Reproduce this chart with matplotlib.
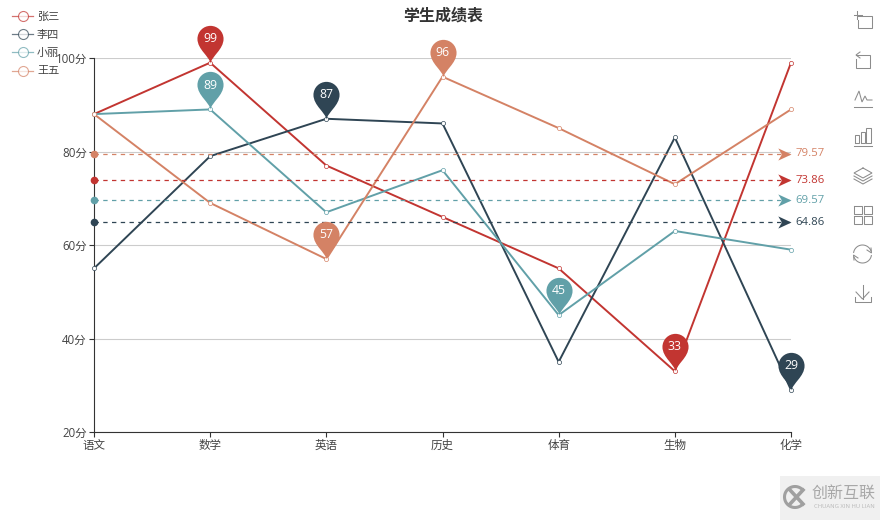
import numpy as np
import matplotlib
matplotlib.use('Agg')
import matplotlib.pyplot as plt
from matplotlib.lines import Line2D
from matplotlib.path import Path
from matplotlib.patches import Rectangle

plt.rcParams['font.family'] = ['Open Sans', 'Noto Sans CJK SC', 'DejaVu Sans']

W, H = 880, 520

subjects = ['语文', '数学', '英语', '历史', '体育', '生物', '化学']
names = ['张三', '李四', '小丽', '王五']
zhangsan = [88, 99, 77, 66, 55, 33, 99]
lisi = [55, 79, 87, 86, 35, 83, 29]
xiaoli = [88, 89, 67, 76, 45, 63, 59]
wangwu = [88, 69, 57, 96, 85, 73, 89]
colors = ['#c23531', '#2f4554', '#61a0a8', '#d48265']
y_ticks = [20, 40, 60, 80, 100]

all_scores = [zhangsan, lisi, xiaoli, wangwu]


def px(x, y):
    # picture pixels (top left origin) to figure fraction
    return x / W, 1 - y / H


def make_pin():
    # tip at the origin, head of radius 13 centred 24.5 above it
    r = 13
    c = 24.5
    k = 0.5523 * r
    verts = [(0, 0), (-1, 7), (-r, 14), (-r, c),
             (-r, c + k), (-k, c + r), (0, c + r),
             (k, c + r), (r, c + k), (r, c),
             (r, 14), (1, 7), (0, 0), (0, 0)]
    codes = [Path.MOVETO] + [Path.CURVE4] * 12 + [Path.CLOSEPOLY]
    return Path(verts, codes)


def make_arrow():
    # tip at the origin, pointing right
    verts = [(0, 0), (-13, 6), (-9.5, 0), (-13, -6), (0, 0)]
    codes = [Path.MOVETO, Path.LINETO, Path.LINETO, Path.LINETO, Path.CLOSEPOLY]
    return Path(verts, codes)


def icon_line(fig, xs, ys, color='#8c8c8c', lw=0.75):
    pts = [px(a, b) for a, b in zip(xs, ys)]
    fig.add_artist(Line2D([p[0] for p in pts], [p[1] for p in pts], color=color,
                          lw=lw, transform=fig.transFigure, solid_joinstyle='miter'))


def draw_toolbox(fig):
    # crop
    icon_line(fig, [858, 872, 872, 858, 858], [16, 16, 28, 28, 20])
    icon_line(fig, [854, 862], [15, 15])
    icon_line(fig, [857, 857], [11, 19])
    # back
    icon_line(fig, [856, 870, 870, 856, 856], [55, 55, 68, 68, 59])
    icon_line(fig, [860, 856, 860], [52, 55, 58])
    # line
    icon_line(fig, [854, 872], [107, 107])
    icon_line(fig, [855, 859, 862, 865, 867, 872], [100, 91, 102, 96, 100, 100])
    # bars
    icon_line(fig, [854, 872], [146, 146])
    for left, top, right in [(855, 135, 859), (861, 132, 865), (866, 128, 871)]:
        icon_line(fig, [left, left, right, right, left], [143, top, top, 143, 143])
    # stack
    icon_line(fig, [863, 872, 863, 854, 863], [168, 173, 178, 173, 168])
    icon_line(fig, [854, 863, 872], [176, 181, 176])
    icon_line(fig, [854, 863, 872], [179, 184, 179])
    # tiles
    for left in [854, 864]:
        for top in [206, 216]:
            icon_line(fig, [left, left + 8, left + 8, left, left],
                      [top, top, top + 8, top + 8, top])
    # refresh
    for start, end in [(20, 170), (200, 350)]:
        t = np.radians(np.linspace(start, end, 30))
        icon_line(fig, 862.5 + 9 * np.cos(t), 254 - 9 * np.sin(t))
    icon_line(fig, [871, 871.5, 867], [248, 253, 250])
    icon_line(fig, [854, 853.5, 858], [260, 255, 258])
    # download
    icon_line(fig, [862.5, 862.5], [285, 299])
    icon_line(fig, [856, 862.5, 869], [292, 299, 292])
    icon_line(fig, [855, 855, 871, 871], [297, 302, 302, 297])


def draw_watermark(fig):
    x0, y0 = px(780, 520)
    fig.add_artist(Rectangle((x0, y0), 100 / W, 44 / H, transform=fig.transFigure,
                             color='#f0f0f0', lw=0))
    t = np.radians(np.linspace(45, 315, 40))
    icon_line(fig, 795 + 10.5 * np.cos(t), 497 - 10.5 * np.sin(t), color='#a0a0a0', lw=2.2)
    icon_line(fig, [790, 803], [490, 504], color='#a0a0a0', lw=2.6)
    icon_line(fig, [790, 803], [504, 490], color='#a0a0a0', lw=2.6)
    x, y = px(844, 494)
    fig.text(x, y, '创新互联', ha='center', va='center', fontsize=11.5, color='#a8a8a8')
    x, y = px(844, 507)
    fig.text(x, y, 'CHUANG XIN HU LIAN', ha='center', va='center', fontsize=4.2, color='#b8b8b8')


fig = plt.figure(figsize=(W / 100, H / 100), dpi=100, facecolor='white')
ax = fig.add_axes([94 / W, 1 - 432 / H, 697 / W, 374 / H])

x_pos = np.arange(len(subjects))
ax.set_xlim(0, len(subjects) - 1)
ax.set_ylim(20, 100)

ax.set_xticks(x_pos)
ax.set_xticklabels(subjects)
ax.set_yticks(y_ticks)
ax.set_yticklabels([str(v) + '分' for v in y_ticks])
ax.tick_params(axis='both', labelsize=8.3, labelcolor='#444444', color='#333333',
               length=3.6, width=0.8, pad=1.5)
ax.grid(axis='y', color='#cccccc', lw=0.8)
ax.set_axisbelow(True)
for side in ['top', 'right']:
    ax.spines[side].set_visible(False)
for side in ['left', 'bottom']:
    ax.spines[side].set_color('#333333')
    ax.spines[side].set_linewidth(0.8)

handles = []
for scores, name, color in zip(all_scores, names, colors):
    ax.plot(x_pos, scores, color=color, lw=1.4, marker='o', ms=3.0, mfc='white',
            mew=0.5, clip_on=False, zorder=3)
    handles.append(Line2D([], [], color=color, lw=0.9, marker='o', ms=7.2, mfc='white',
                          mew=0.8, alpha=0.7, label=name))

pin = make_pin()
arrow = make_arrow()
for scores, color in zip(all_scores, colors):
    avg = np.mean(scores)
    ax.plot([0, x_pos[-1]], [avg, avg], color=color, lw=0.9, ls=(0, (3.5, 3.5)), zorder=4)
    ax.plot([0], [avg], marker='o', ms=5.5, color=color, mew=0, clip_on=False, zorder=5)
    ax.plot([x_pos[-1]], [avg], marker=arrow, ms=19, color=color, mew=0, clip_on=False, zorder=5)
    ax.annotate('%.2f' % avg, (x_pos[-1], avg), xytext=(3, 0), textcoords='offset points',
                ha='left', va='center', fontsize=8.2, color=color, annotation_clip=False)
    for idx in [int(np.argmax(scores)), int(np.argmin(scores))]:
        ax.plot([x_pos[idx]], [scores[idx]], marker=pin, ms=54.2, color=color, mew=0,
                clip_on=False, zorder=6)
        ax.annotate(str(scores[idx]), (x_pos[idx], scores[idx]), xytext=(0, 17.5),
                    textcoords='offset points', ha='center', va='center', fontsize=8.8,
                    color='white', zorder=7, annotation_clip=False)

fig.legend(handles=handles, loc='upper left', bbox_to_anchor=px(12, 11.5), frameon=False,
           fontsize=8.0, labelcolor='#444444', handlelength=1.9, handletextpad=0.35,
           labelspacing=0.66, borderpad=0, borderaxespad=0)

x, y = px(443, 17)
fig.text(x, y, '学生成绩表', ha='center', va='center', fontsize=11.5, weight='bold', color='#333333')

draw_toolbox(fig)
draw_watermark(fig)

fig.savefig('out.png', dpi=100)
